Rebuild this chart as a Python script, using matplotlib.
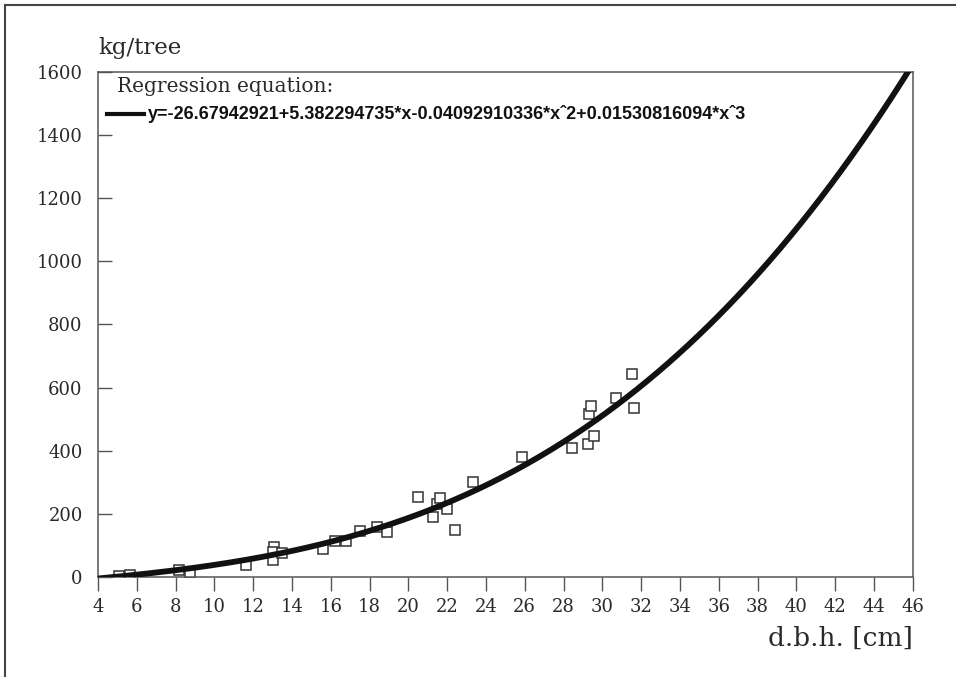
#! /usr/bin/env python3
# -*- coding: utf-8 -*-
'''
Biomass per tree vs d.b.h. with cubic regression
'''

import numpy as np
import matplotlib
matplotlib.use('Agg')
import matplotlib.pyplot as plt
from matplotlib.lines import Line2D

# measured trees (d.b.h. in cm, dry mass in kg/tree)
dbh = [5.1, 5.65, 8.2, 8.75, 11.65, 13.05, 13.0, 13.0, 13.5, 15.6, 16.2, 16.8,
       17.5, 18.4, 18.9, 20.5, 21.25, 21.5, 21.65, 22.0, 22.4, 23.35, 25.85,
       28.45, 29.25, 29.55, 29.3, 29.4, 30.7, 31.55, 31.65]
mass = [3, 6, 22, 14, 38, 96, 80, 54, 77, 89, 114, 114,
        146, 159, 144, 255, 190, 232, 249, 216, 149, 301, 381,
        408, 421, 447, 516, 541, 566, 642, 535]

# regression coefficients, constant term first
coef = [-26.67942921, 5.382294735, -0.04092910336, 0.01530816094]
eq_label = 'y=-26.67942921+5.382294735*x-0.04092910336*x^2+0.01530816094*x^3'

x_ticks = list(range(4, 47, 2))
y_ticks = list(range(0, 1601, 200))

ink = '#2a2a2a'
serif = 'DejaVu Serif'

fig = plt.figure(figsize=(9.56, 6.77), dpi=100)
ax = fig.add_axes([0.1025, 0.1477, 0.8522, 0.746])

xs = np.linspace(4, 46, 400)
ax.plot(xs, np.polyval(coef[::-1], xs), color='#111111', lw=4.2,
        solid_capstyle='butt', zorder=3)
ax.plot(dbh, mass, ls='none', marker='s', ms=7, mfc='white', mec='#333333',
        mew=1.1, zorder=2)

ax.set_xlim(4, 46)
ax.set_ylim(0, 1600)
ax.set_xticks(x_ticks)
ax.set_yticks(y_ticks)
ax.tick_params(axis='x', direction='out', length=10, width=1, pad=5,
               colors='#555555', labelcolor=ink, labelsize=13)
ax.tick_params(axis='y', direction='in', length=10, width=1, pad=11,
               colors='#555555', labelcolor=ink, labelsize=13)
for lab in ax.get_xticklabels() + ax.get_yticklabels():
    lab.set_family(serif)
for sp in ax.spines.values():
    sp.set_color('#555555')
    sp.set_linewidth(1.1)

ax.text(0.0, 1.0475, 'kg/tree', transform=ax.transAxes, family=serif,
        fontsize=16.5, color=ink, ha='left', va='center')
ax.text(1.0, -0.121, 'd.b.h. [cm]', transform=ax.transAxes, family=serif,
        fontsize=19, color=ink, ha='right', va='center')

# legend without frame
ax.text(0.023, 0.972, 'Regression equation:', transform=ax.transAxes,
        family=serif, fontsize=14.5, color=ink, ha='left', va='center')
ax.add_line(Line2D([0.011, 0.057], [0.916, 0.916], transform=ax.transAxes,
                   color='#111111', lw=3))
ax.text(0.061, 0.916, eq_label.replace('^', '\u02c6'), transform=ax.transAxes,
        family='Liberation Sans', fontweight='bold', fontsize=13,
        color='#111111', ha='left', va='center')

# page frame (top and left edges)
fig.add_artist(Line2D([0.005, 1.0], [0.993, 0.993], transform=fig.transFigure,
                      color='#444444', lw=1.5))
fig.add_artist(Line2D([0.005, 0.005], [0.0, 0.993], transform=fig.transFigure,
                      color='#444444', lw=1.5))

fig.savefig('out.png', dpi=100, facecolor='white')
